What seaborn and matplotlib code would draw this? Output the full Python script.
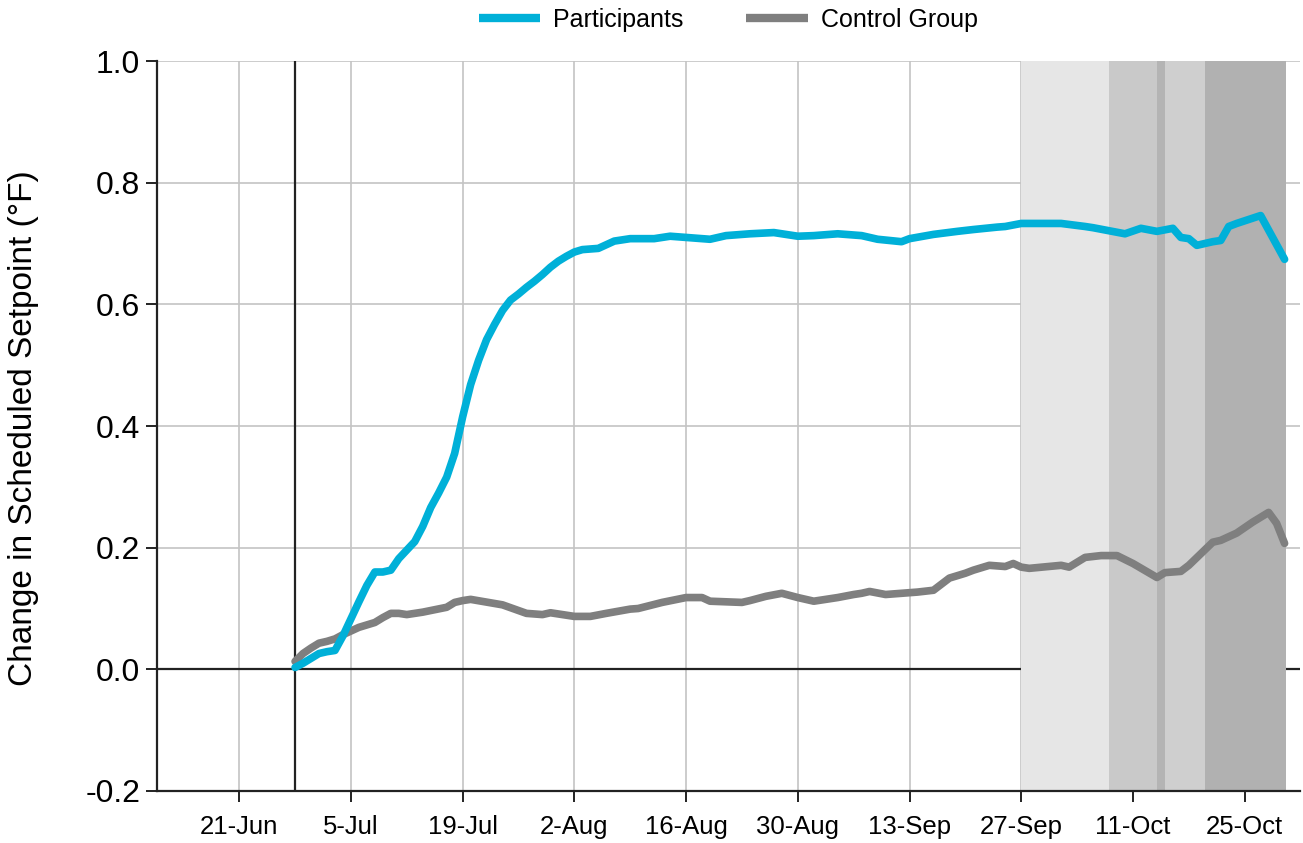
import pandas as pd
import matplotlib
matplotlib.use('Agg')
import matplotlib.pyplot as plt
import seaborn as sns

# Study start (treatment begins) and values
start_date = pd.Timestamp('2016-06-28')

participant_days = [0, 1, 2, 3, 4, 5, 6, 7, 8, 9, 10, 11, 12, 13, 14, 15, 16, 17, 18, 19,
                    20, 21, 22, 23, 24, 25, 26, 27, 28, 29, 30, 31, 32, 33, 34, 35, 36, 38,
                    40, 42, 45, 47, 49, 52, 54, 57, 60, 63, 65, 68, 71, 73, 76, 77, 80, 83,
                    85, 88, 89, 91, 96, 99, 100, 104, 106, 108, 110, 111, 112, 113, 115,
                    116, 117, 118, 121, 124]
participant_vals = [0.003, 0.010, 0.018, 0.026, 0.029, 0.031, 0.055, 0.083, 0.111, 0.138,
                    0.160, 0.160, 0.163, 0.182, 0.196, 0.210, 0.235, 0.266, 0.290, 0.316,
                    0.355, 0.415, 0.468, 0.508, 0.542, 0.567, 0.590, 0.607, 0.617, 0.628,
                    0.638, 0.649, 0.661, 0.671, 0.679, 0.686, 0.690, 0.692, 0.704, 0.708,
                    0.708, 0.712, 0.710, 0.707, 0.713, 0.716, 0.718, 0.712, 0.713, 0.716,
                    0.713, 0.707, 0.703, 0.708, 0.715, 0.720, 0.723, 0.727, 0.728, 0.733,
                    0.733, 0.728, 0.726, 0.716, 0.725, 0.720, 0.725, 0.710, 0.708, 0.697,
                    0.703, 0.705, 0.728, 0.733, 0.746, 0.674]

control_days = [0, 1, 2, 3, 4, 5, 6, 7, 8, 10, 11, 12, 13, 14, 16, 19, 20, 21, 22, 26, 29,
                31, 32, 35, 37, 39, 42, 43, 46, 49, 51, 52, 56, 57, 59, 61, 63, 65, 68, 70,
                71, 72, 74, 76, 78, 80, 82, 84, 85, 87, 89, 90, 91, 92, 96, 97, 99, 101,
                103, 105, 108, 109, 111, 112, 115, 116, 118, 120, 122, 123, 124]
control_vals = [0.013, 0.026, 0.035, 0.043, 0.046, 0.050, 0.057, 0.063, 0.069, 0.077, 0.085,
                0.092, 0.092, 0.090, 0.094, 0.102, 0.110, 0.113, 0.115, 0.106, 0.092, 0.090,
                0.093, 0.087, 0.087, 0.092, 0.099, 0.100, 0.110, 0.118, 0.118, 0.112, 0.110,
                0.113, 0.120, 0.125, 0.118, 0.112, 0.118, 0.123, 0.125, 0.128, 0.123, 0.125,
                0.127, 0.130, 0.150, 0.158, 0.163, 0.171, 0.169, 0.174, 0.168, 0.166, 0.171,
                0.168, 0.184, 0.187, 0.187, 0.174, 0.151, 0.159, 0.161, 0.171, 0.209, 0.212,
                0.224, 0.242, 0.258, 0.240, 0.207]

# Shaded periods (start date, end date, shade)
shade_starts = ['2016-09-27', '2016-10-08', '2016-10-14', '2016-10-15', '2016-10-20']
shade_ends = ['2016-10-08', '2016-10-14', '2016-10-15', '2016-10-20', '2016-10-30 04:00']
shade_colors = ['#e6e6e6', '#c9c9c9', '#b4b4b4', '#cfcfcf', '#b1b1b1']

tick_dates = pd.date_range('2016-06-21', periods=10, freq='14D')
y_ticks = [-0.2, 0.0, 0.2, 0.4, 0.6, 0.8, 1.0]

df_p = pd.DataFrame({'Date': start_date + pd.to_timedelta(participant_days, unit='D'),
                     'Value': participant_vals})
df_c = pd.DataFrame({'Date': start_date + pd.to_timedelta(control_days, unit='D'),
                     'Value': control_vals})

sns.set_style('white')
plt.rcParams['font.family'] = ['Liberation Sans', 'DejaVu Sans']
plt.rcParams['text.color'] = 'black'
plt.rcParams['axes.labelcolor'] = 'black'
plt.rcParams['xtick.color'] = 'black'
plt.rcParams['ytick.color'] = 'black'

fig = plt.figure(figsize=(13.03, 8.43), dpi=100)
ax = fig.add_axes([0.1205, 0.0617, 0.877, 0.8659])

# shaded periods sit above the grid but below the lines
for s, e, c in zip(shade_starts, shade_ends, shade_colors):
    ax.axvspan(pd.Timestamp(s), pd.Timestamp(e), color=c, lw=0, zorder=1)

ax.axhline(0, color='#222222', lw=1.6, zorder=0.8)
ax.axvline(start_date, color='#222222', lw=1.6, zorder=1.2)

sns.lineplot(data=df_c, x='Date', y='Value', ax=ax, color='#7f7f7f', lw=5.5,
             label='Control Group', zorder=3, solid_joinstyle='round', solid_capstyle='round')
sns.lineplot(data=df_p, x='Date', y='Value', ax=ax, color='#00b0d8', lw=5.5,
             label='Participants', zorder=4, solid_joinstyle='round', solid_capstyle='round')

ax.set_xlim(start_date - pd.Timedelta(days=17.3), start_date + pd.Timedelta(days=125.9))
ax.set_ylim(-0.2, 1.0)
ax.set_xticks(tick_dates)
ax.set_xticklabels([f"{d.day}-{d.strftime('%b')}" for d in tick_dates])
ax.set_yticks(y_ticks)
ax.set_yticklabels([f'{v:.1f}' for v in y_ticks])

ax.grid(True, color='#c4c4c4', lw=1.2, zorder=0)
ax.set_axisbelow(True)

for side in ['top', 'right']:
    ax.spines[side].set_visible(False)
for side in ['left', 'bottom']:
    ax.spines[side].set_color('#222222')
    ax.spines[side].set_linewidth(1.6)

ax.tick_params(axis='both', direction='out', length=8, width=1.4, color='#222222',
               bottom=True, left=True)
ax.tick_params(axis='x', labelsize=18.5, pad=9)
ax.tick_params(axis='y', labelsize=23, pad=4)
ax.set_xlabel('')
ax.set_ylabel('Change in Scheduled Setpoint (°F)', fontsize=24)
ax.yaxis.set_label_coords(-0.103, 0.497)

handles, labels = ax.get_legend_handles_labels()
order = [1, 0]
leg = ax.legend([handles[i] for i in order], [labels[i] for i in order],
                loc='center', bbox_to_anchor=(0.5, 1.056), ncol=2, frameon=False,
                fontsize=18, handlelength=2.45, handletextpad=0.52, columnspacing=2.5)
for line in leg.get_lines():
    line.set_linewidth(6)
    line.set_solid_capstyle('butt')

plt.savefig('out.png', dpi=100)
